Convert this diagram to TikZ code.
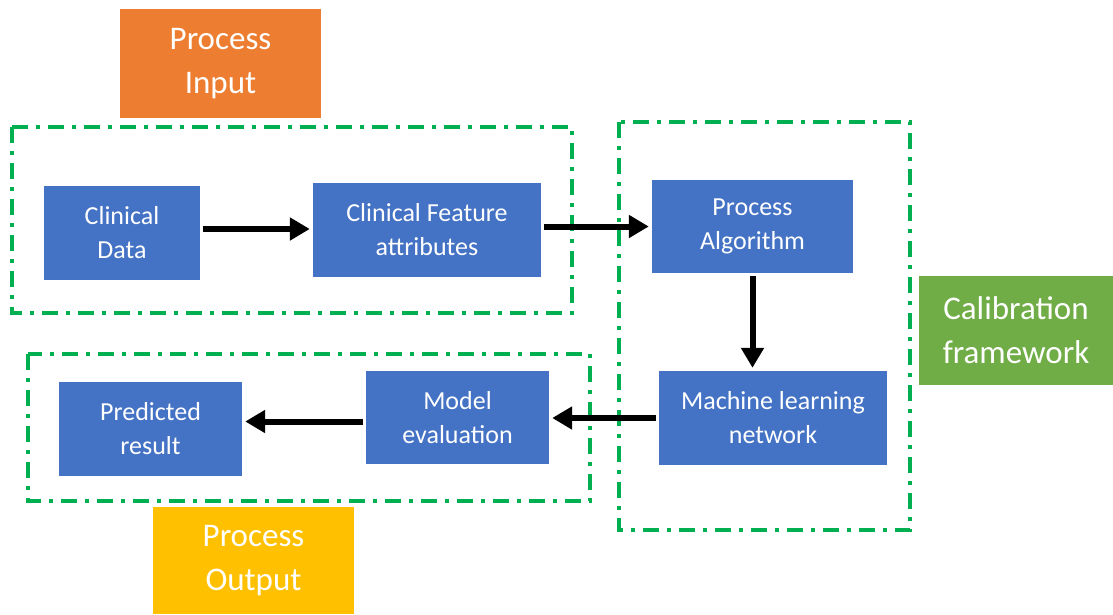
\documentclass[tikz,border=0pt]{standalone}
\usepackage{fontspec}
\setmainfont{Carlito}
\usetikzlibrary{arrows.meta}

\definecolor{boxblue}{HTML}{4472C4}
\definecolor{inorange}{HTML}{ED7D31}
\definecolor{outyellow}{HTML}{FFC000}
\definecolor{calgreen}{HTML}{70AD47}
\definecolor{groupgreen}{HTML}{00B050}

\begin{document}
\begin{tikzpicture}[x=1pt, y=-1pt,
    stepbox/.style={rectangle, fill=boxblue, text=white, align=center,
        inner sep=0pt, font=\fontsize{26}{34}\selectfont},
    tagbox/.style={rectangle, text=white, align=center, inner sep=0pt,
        minimum width=201pt, minimum height=109pt, font=\fontsize{33}{44}\selectfont},
    flow/.style={line width=6pt, -{Triangle[length=20pt, width=22pt]},
        shorten <=3pt, shorten >=3pt},
    groupbox/.style={groupgreen, line width=4pt,
        dash pattern=on 16pt off 8pt on 4pt off 8pt}]
    \useasboundingbox (0,0) rectangle (1113,614);

    % stage labels
    \node[tagbox, fill=inorange] (input) at (220.5,63.5) {Process\\Input};
    \node[tagbox, fill=outyellow, minimum height=107pt] (output) at (253.5,560.5) {Process\\Output};
    \node[tagbox, fill=calgreen, minimum width=194pt] (calib) at (1016,330.5) {Calibration\\framework};

    % dash-dot groups
    \draw[groupbox] (12,127) rectangle (572,313);
    \draw[groupbox] (28,354) rectangle (590,501);
    \draw[groupbox] (619,122) rectangle (910,530);

    % process steps
    \node[stepbox, minimum width=156pt, minimum height=94pt] (data) at (122,233) {Clinical\\Data};
    \node[stepbox, minimum width=228pt, minimum height=94pt] (feature) at (427,230) {Clinical Feature\\attributes};
    \node[stepbox, minimum width=201pt, minimum height=93pt] (algo) at (752.5,226.5) {Process\\Algorithm};
    \node[stepbox, minimum width=228pt, minimum height=94pt] (mlnet) at (773,418) {Machine learning\\network};
    \node[stepbox, minimum width=183pt, minimum height=93pt] (evalm) at (457.5,417.5) {Model\\evaluation};
    \node[stepbox, minimum width=183pt, minimum height=94pt] (result) at (150.5,429) {Predicted\\result};

    % arrows
    \draw[flow] ([yshift=4pt]data.east) -- ([yshift=4pt]data.east -| feature.west);
    \draw[flow] (feature.east |- algo.west) -- (algo.west);
    \draw[flow] (algo.south) -- (algo.south |- mlnet.north);
    \draw[flow] (mlnet.west) -- (mlnet.west -| evalm.east);
    \draw[flow] ([yshift=-4pt]evalm.west) -- ([yshift=-4pt]evalm.west -| result.east);
\end{tikzpicture}
\end{document}
